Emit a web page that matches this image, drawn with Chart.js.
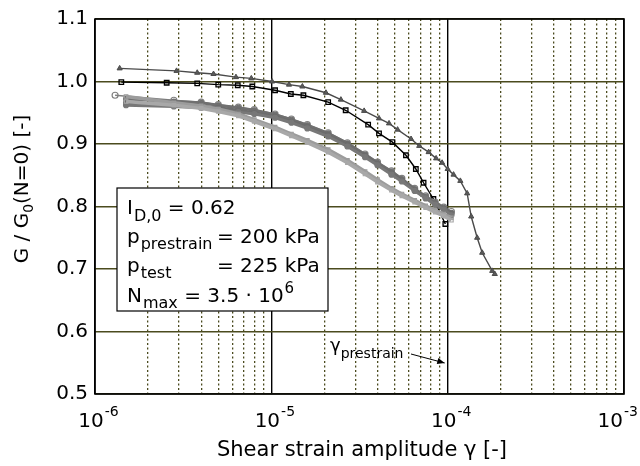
<!DOCTYPE html>
<html>
<head>
<meta charset="utf-8">
<script src="https://cdn.jsdelivr.net/npm/chart.js@4/dist/chart.umd.min.js"></script>
<style>
  html, body { margin: 0; padding: 0; background: #fff; }
  #wrap { width: 640px; height: 466px; }
</style>
</head>
<body>
<div id="wrap"><canvas id="chart" width="640" height="466"></canvas></div>
<script>
// data
const triX = [1.38e-6, 2.9e-6, 3.8e-6, 4.7e-6, 6.3e-6, 7.7e-6, 1.01e-5, 1.26e-5, 1.5e-5, 2.04e-5, 2.48e-5, 3.36e-5, 4.08e-5, 4.65e-5, 5.2e-5, 6.2e-5, 6.9e-5, 7.8e-5, 8.6e-5, 9.3e-5, 1.0e-4, 1.08e-4, 1.18e-4, 1.29e-4, 1.36e-4, 1.47e-4, 1.57e-4, 1.79e-4, 1.85e-4];
const triY = [1.021, 1.017, 1.014, 1.012, 1.007, 1.005, 1.000, 0.995, 0.992, 0.982, 0.971, 0.953, 0.941, 0.933, 0.923, 0.908, 0.897, 0.887, 0.877, 0.870, 0.860, 0.851, 0.841, 0.821, 0.784, 0.750, 0.726, 0.697, 0.692];

const sqX = [1.41e-6, 2.55e-6, 3.8e-6, 5.0e-6, 6.45e-6, 7.8e-6, 1.05e-5, 1.29e-5, 1.52e-5, 2.1e-5, 2.64e-5, 3.54e-5, 4.08e-5, 4.86e-5, 5.8e-5, 6.6e-5, 7.3e-5, 8.3e-5, 9.7e-5];
const sqY = [0.999, 0.998, 0.997, 0.995, 0.994, 0.992, 0.986, 0.980, 0.978, 0.967, 0.954, 0.931, 0.917, 0.903, 0.882, 0.860, 0.838, 0.812, 0.772];

const grayX = [1.5e-6, 2.8e-6, 4e-6, 5e-6, 6.5e-6, 8e-6, 1.05e-5, 1.3e-5, 1.6e-5, 2.1e-5, 2.7e-5, 3.4e-5, 4e-5, 4.8e-5, 5.5e-5, 6.5e-5, 7.5e-5, 8.5e-5, 9.5e-5, 1.05e-4];
const circX = [1.3e-6, 2.8e-6, 4e-6, 5e-6, 6.5e-6, 8e-6, 1.05e-5, 1.3e-5, 1.6e-5, 2.1e-5, 2.7e-5, 3.4e-5, 4e-5, 4.8e-5, 5.5e-5, 6.5e-5, 7.5e-5, 8.5e-5, 9.5e-5, 1.05e-4];
const circY  = [0.978, 0.970, 0.967, 0.963, 0.959, 0.955, 0.948, 0.940, 0.931, 0.918, 0.902, 0.884, 0.871, 0.857, 0.845, 0.829, 0.817, 0.807, 0.799, 0.792];
const darkA  = [0.972, 0.968, 0.966, 0.962, 0.958, 0.954, 0.947, 0.939, 0.930, 0.917, 0.901, 0.883, 0.870, 0.856, 0.844, 0.828, 0.816, 0.806, 0.798, 0.790];
const darkB  = [0.966, 0.963, 0.961, 0.958, 0.954, 0.950, 0.944, 0.936, 0.927, 0.914, 0.899, 0.881, 0.868, 0.853, 0.842, 0.826, 0.814, 0.804, 0.796, 0.788];
const darkC  = [0.962, 0.960, 0.958, 0.955, 0.951, 0.948, 0.942, 0.934, 0.925, 0.912, 0.896, 0.879, 0.866, 0.851, 0.840, 0.825, 0.813, 0.803, 0.795, 0.786];
const lightA = [0.976, 0.966, 0.961, 0.956, 0.948, 0.939, 0.927, 0.916, 0.906, 0.891, 0.874, 0.856, 0.843, 0.829, 0.820, 0.810, 0.801, 0.794, 0.788, 0.782];
const lightB = [0.968, 0.962, 0.957, 0.952, 0.945, 0.936, 0.924, 0.913, 0.902, 0.887, 0.870, 0.852, 0.839, 0.826, 0.817, 0.807, 0.798, 0.791, 0.785, 0.778];

const xDecades = [-6, -5, -4, -3];
const yTicks = [0.5, 0.6, 0.7, 0.8, 0.9, 1.0, 1.1];
const prestrainX = 1e-4;

const FONT = '"DejaVu Sans", sans-serif';
const OLIVE = '#4b4b1e';

function pts(xs, ys) {
  return xs.map(function(x, i) { return { x: x, y: ys[i] }; });
}

// all 1..9 multiples between the decades
const xTickVals = [];
for (let d = -6; d < -3; d++) {
  for (let m = 1; m <= 9; m++) xTickVals.push(m * Math.pow(10, d));
}
xTickVals.push(1e-3);

function isMajor(v) {
  const l = Math.log10(v);
  return Math.abs(l - Math.round(l)) < 1e-6;
}

function grayDs(data, color, style, width, radius, fill) {
  return {
    data: data,
    borderColor: color,
    backgroundColor: fill,
    borderWidth: width,
    pointStyle: style,
    pointRadius: radius,
    pointBorderWidth: 1.2,
    showLine: true
  };
}

const extras = {
  id: 'extras',
  afterDatasetsDraw(chart) {
    const c = chart.ctx;
    const a = chart.chartArea;
    const xs = chart.scales.x;
    c.save();

    // frame
    c.strokeStyle = '#000';
    c.lineWidth = 1.6;
    c.strokeRect(a.left, a.top, a.right - a.left, a.bottom - a.top);

    c.fillStyle = '#000';
    c.textBaseline = 'alphabetic';
    c.textAlign = 'left';
    function seg(txt, x, y, size) {
      c.font = size + 'px ' + FONT;
      c.fillText(txt, x, y);
      return x + c.measureText(txt).width;
    }
    function wid(txt, size) {
      c.font = size + 'px ' + FONT;
      return c.measureText(txt).width;
    }

    // x tick labels 10^n
    xDecades.forEach(function(d) {
      const px = xs.getPixelForValue(Math.pow(10, d));
      const sup = String(d);
      const w1 = wid('10', 20);
      const w2 = wid(sup, 14);
      let start = px - (w1 + w2) / 2 + 3;
      if (start + w1 + w2 > 637) start = 637 - w1 - w2;
      seg('10', start, 427, 20);
      seg(sup, start + w1 + 1, 416, 14);
    });

    // axis titles
    c.textAlign = 'center';
    c.font = '21px ' + FONT;
    c.fillText('Shear strain amplitude \u03b3 [-]', 362, 456);
    c.save();
    c.translate(28, 189);
    c.rotate(-Math.PI / 2);
    const t1 = 'G / G', t2 = '0', t3 = '(N=0) [-]';
    const tw = wid(t1, 20) + wid(t2, 14) + wid(t3, 20);
    c.textAlign = 'left';
    let tx = seg(t1, -tw / 2, 0, 20);
    tx = seg(t2, tx, 5, 14);
    seg(t3, tx, 0, 20);
    c.restore();

    // parameter box
    c.fillStyle = '#fff';
    c.fillRect(117, 188, 211, 123);
    c.strokeStyle = '#000';
    c.lineWidth = 1.2;
    c.strokeRect(117, 188, 211, 123);

    c.fillStyle = '#000';
    c.textAlign = 'left';
    let x = seg('I', 127, 214, 20);
    x = seg('D,0', x + 1, 221, 16);
    seg(' = 0.62', x, 214, 20);

    x = seg('p', 127, 243, 20);
    seg('prestrain', x + 1, 249, 16);
    seg('= 200 kPa', 217, 243, 20);

    x = seg('p', 127, 272, 20);
    seg('test', x + 1, 278, 16);
    seg('= 225 kPa', 217, 272, 20);

    x = seg('N', 127, 302, 20);
    x = seg('max', x + 1, 308, 16);
    x = seg(' = 3.5 \u00b7 10', x, 302, 20);
    seg('6', x + 1, 293, 15);

    // gamma prestrain label + arrow
    x = seg('\u03b3', 330, 351, 18);
    seg('prestrain', x, 358, 14);
    const ax = xs.getPixelForValue(prestrainX) - 3;
    c.strokeStyle = '#000';
    c.lineWidth = 1;
    c.beginPath();
    c.moveTo(411, 354);
    c.lineTo(ax, 363);
    c.stroke();
    const ang = Math.atan2(363 - 354, ax - 411);
    c.beginPath();
    c.moveTo(ax, 363);
    c.lineTo(ax - 8 * Math.cos(ang - 0.4), 363 - 8 * Math.sin(ang - 0.4));
    c.lineTo(ax - 8 * Math.cos(ang + 0.4), 363 - 8 * Math.sin(ang + 0.4));
    c.closePath();
    c.fill();

    c.restore();
  }
};

new Chart(document.getElementById('chart'), {
  type: 'scatter',
  data: {
    datasets: [
      grayDs(pts(grayX, lightB), '#a8a8a8', 'rect', 3.5, 2.5, 'rgba(255,255,255,0)'),
      grayDs(pts(grayX, lightA), '#9c9c9c', 'rect', 3.5, 2.5, 'rgba(255,255,255,0)'),
      grayDs(pts(grayX, darkC), '#787878', 'circle', 3, 2.5, '#787878'),
      grayDs(pts(grayX, darkB), '#6c6c6c', 'circle', 3, 2.5, '#6c6c6c'),
      grayDs(pts(grayX, darkA), '#707070', 'circle', 3, 2.5, '#707070'),
      {
        data: pts(circX, circY),
        borderColor: '#808080',
        backgroundColor: 'rgba(255,255,255,0)',
        borderWidth: 1.5,
        pointStyle: 'circle',
        pointRadius: 3,
        pointBorderWidth: 1.2,
        showLine: true
      },
      {
        data: pts(sqX, sqY),
        borderColor: '#000',
        backgroundColor: 'rgba(255,255,255,0)',
        borderWidth: 1.4,
        pointStyle: 'rect',
        pointRadius: 3.2,
        pointBorderWidth: 1.3,
        showLine: true
      },
      {
        data: pts(triX, triY),
        borderColor: '#4a4a4a',
        backgroundColor: '#5a5a5a',
        borderWidth: 1.4,
        pointStyle: 'triangle',
        pointRadius: 3,
        pointBorderWidth: 1,
        showLine: true
      }
    ]
  },
  options: {
    responsive: false,
    animation: false,
    layout: { padding: { top: 15, right: 16, left: 0, bottom: 0 } },
    plugins: {
      legend: { display: false },
      tooltip: { enabled: false }
    },
    scales: {
      x: {
        type: 'logarithmic',
        min: 1e-6,
        max: 1e-3,
        afterBuildTicks: function(scale) {
          scale.ticks = xTickVals.map(function(v) { return { value: v }; });
        },
        afterFit: function(scale) { scale.height = 72; },
        ticks: { display: false },
        grid: {
          drawTicks: false,
          color: function(ctx) { return ctx.tick && isMajor(ctx.tick.value) ? '#000' : OLIVE; },
          lineWidth: function(ctx) { return ctx.tick && isMajor(ctx.tick.value) ? 1.4 : 1.3; }
        },
        border: {
          display: false,
          dash: function(ctx) { return ctx.tick && isMajor(ctx.tick.value) ? [] : [2, 2.5]; }
        },
        title: { display: false }
      },
      y: {
        min: 0.5,
        max: 1.1,
        afterBuildTicks: function(scale) {
          scale.ticks = yTicks.map(function(v) { return { value: v }; });
        },
        afterFit: function(scale) { scale.width = 95; },
        ticks: {
          color: '#000',
          font: { family: FONT, size: 20 },
          padding: 7,
          callback: function(v) { return Number(v).toFixed(1); }
        },
        grid: { drawTicks: false, color: OLIVE, lineWidth: 1.4 },
        border: { display: false },
        title: { display: false }
      }
    }
  },
  plugins: [extras]
});
</script>
</body>
</html>
